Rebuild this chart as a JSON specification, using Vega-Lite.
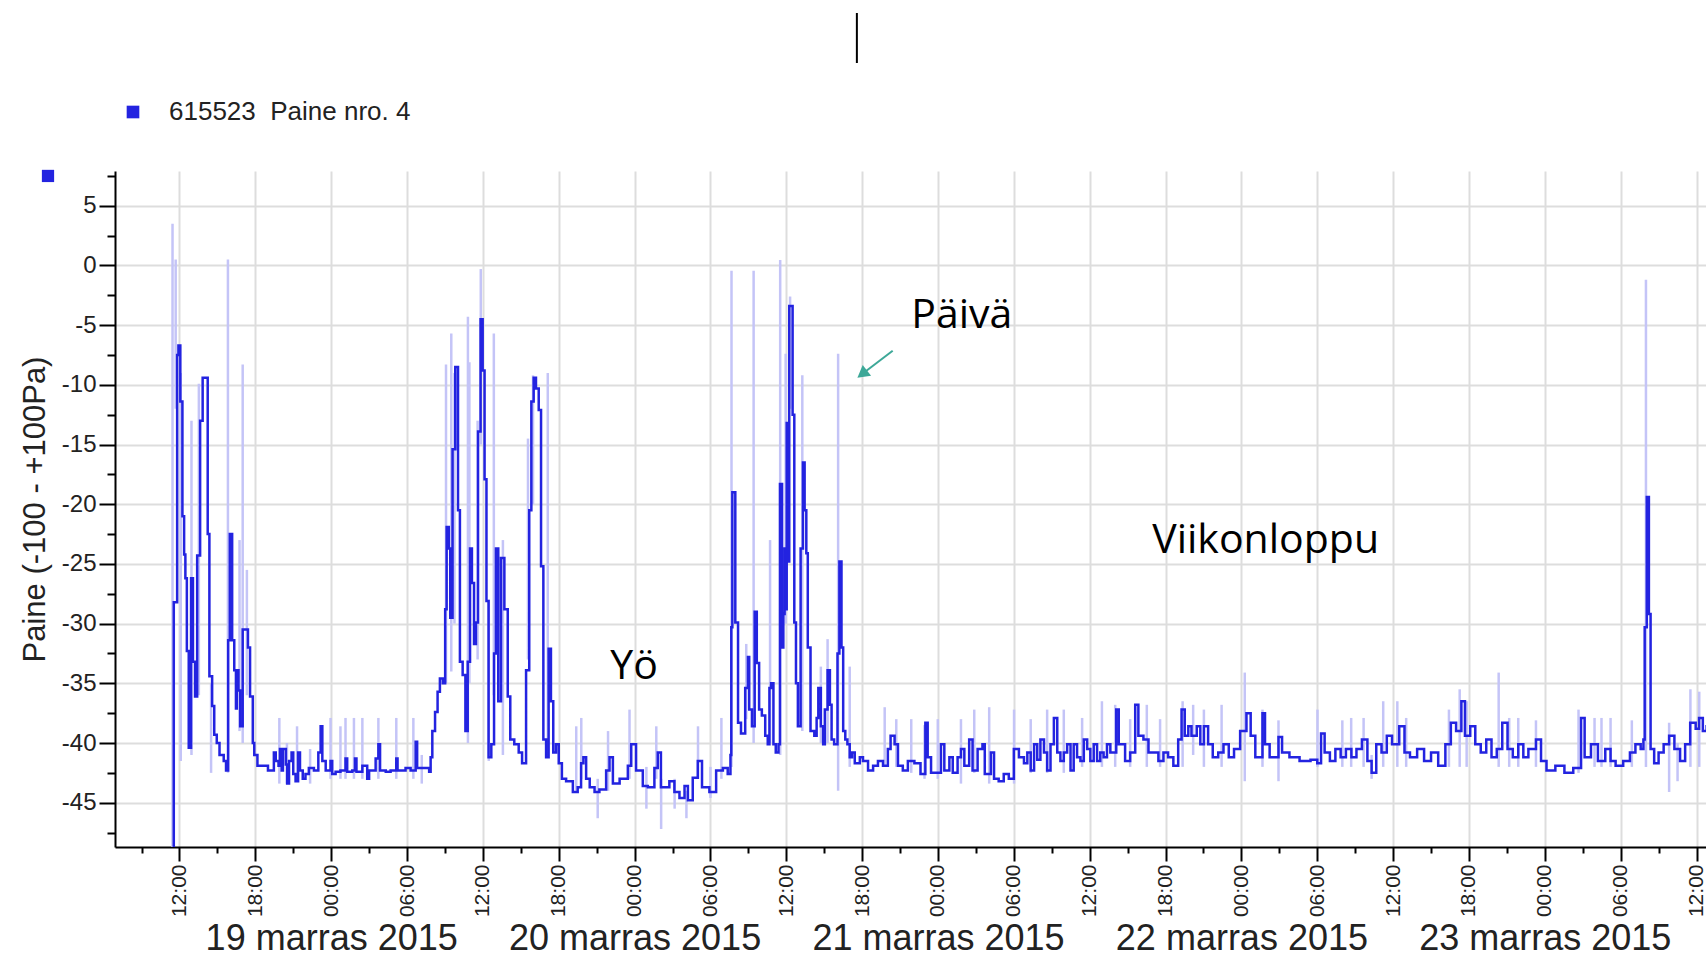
{
  "$schema": "https://vega.github.io/schema/vega-lite/v6.json",
  "width": 1591,
  "height": 676,
  "autosize": {"type": "none"},
  "padding": {"left": 115, "top": 171, "right": 0, "bottom": 111},
  "background": "white",
  "config": {"view": {"stroke": null}, "font": "Liberation Sans"},
  "resolve": {"axis": {"x": "independent", "y": "independent"}},
  "datasets": {
    "line": [
      {"t":"2015-11-18T11:28","v":-50},{"t":"2015-11-18T11:33","v":-28.2},{"t":"2015-11-18T11:49","v":-7.5},{"t":"2015-11-18T11:55","v":-6.7},
      {"t":"2015-11-18T12:04","v":-11.4},{"t":"2015-11-18T12:14","v":-21},{"t":"2015-11-18T12:22","v":-24.2},{"t":"2015-11-18T12:28","v":-26.2},
      {"t":"2015-11-18T12:35","v":-32.3},{"t":"2015-11-18T12:44","v":-40.4},{"t":"2015-11-18T12:55","v":-26.2},{"t":"2015-11-18T13:04","v":-33.2},
      {"t":"2015-11-18T13:14","v":-36.1},{"t":"2015-11-18T13:24","v":-24.3},{"t":"2015-11-18T13:38","v":-13},{"t":"2015-11-18T13:50","v":-9.4},
      {"t":"2015-11-18T14:14","v":-22.5},{"t":"2015-11-18T14:22","v":-34.4},{"t":"2015-11-18T14:35","v":-36.9},{"t":"2015-11-18T14:45","v":-39.3},
      {"t":"2015-11-18T14:57","v":-40},{"t":"2015-11-18T15:10","v":-41},{"t":"2015-11-18T15:30","v":-41.5},{"t":"2015-11-18T15:41","v":-42.3},
      {"t":"2015-11-18T15:51","v":-31.4},{"t":"2015-11-18T15:59","v":-22.5},{"t":"2015-11-18T16:10","v":-31.4},{"t":"2015-11-18T16:20","v":-33.9},
      {"t":"2015-11-18T16:28","v":-37.1},{"t":"2015-11-18T16:32","v":-33.9},{"t":"2015-11-18T16:40","v":-35.6},{"t":"2015-11-18T16:48","v":-38.6},
      {"t":"2015-11-18T17:00","v":-30.5},{"t":"2015-11-18T17:25","v":-32},{"t":"2015-11-18T17:35","v":-36.1},{"t":"2015-11-18T17:48","v":-40},
      {"t":"2015-11-18T17:55","v":-41},{"t":"2015-11-18T18:10","v":-41.9},{"t":"2015-11-18T19:00","v":-42.3},{"t":"2015-11-18T19:28","v":-40.8},
      {"t":"2015-11-18T19:37","v":-41.5},{"t":"2015-11-18T19:50","v":-41.9},{"t":"2015-11-18T19:57","v":-40.5},{"t":"2015-11-18T20:05","v":-42.3},
      {"t":"2015-11-18T20:11","v":-40.5},{"t":"2015-11-18T20:25","v":-41.8},{"t":"2015-11-18T20:31","v":-43.4},{"t":"2015-11-18T20:40","v":-41.5},
      {"t":"2015-11-18T20:52","v":-40.8},{"t":"2015-11-18T21:00","v":-42.6},{"t":"2015-11-18T21:11","v":-43.2},{"t":"2015-11-18T21:23","v":-40.8},
      {"t":"2015-11-18T21:32","v":-42.3},{"t":"2015-11-18T21:45","v":-43},{"t":"2015-11-18T21:58","v":-42.6},{"t":"2015-11-18T22:14","v":-42.1},
      {"t":"2015-11-18T22:38","v":-42.3},{"t":"2015-11-18T22:59","v":-40.8},{"t":"2015-11-18T23:10","v":-38.6},{"t":"2015-11-18T23:18","v":-41.5},
      {"t":"2015-11-18T23:34","v":-42.3},{"t":"2015-11-18T23:57","v":-41.5},
      {"t":"2015-11-19T00:05","v":-42.6},{"t":"2015-11-19T00:21","v":-42.4},{"t":"2015-11-19T00:44","v":-42.3},{"t":"2015-11-19T01:08","v":-41.3},
      {"t":"2015-11-19T01:16","v":-42.4},{"t":"2015-11-19T01:40","v":-42.3},{"t":"2015-11-19T01:53","v":-41.3},{"t":"2015-11-19T02:00","v":-42.4},
      {"t":"2015-11-19T02:28","v":-41.9},{"t":"2015-11-19T02:51","v":-43},{"t":"2015-11-19T03:00","v":-42.3},{"t":"2015-11-19T03:31","v":-41.3},
      {"t":"2015-11-19T03:44","v":-40.1},{"t":"2015-11-19T03:52","v":-42.3},{"t":"2015-11-19T04:19","v":-42.4},{"t":"2015-11-19T04:42","v":-42.3},
      {"t":"2015-11-19T05:09","v":-41.3},{"t":"2015-11-19T05:15","v":-42.3},{"t":"2015-11-19T05:53","v":-42.1},{"t":"2015-11-19T06:17","v":-42.3},
      {"t":"2015-11-19T06:41","v":-39.9},{"t":"2015-11-19T06:48","v":-42.1},{"t":"2015-11-19T07:20","v":-42.1},{"t":"2015-11-19T07:45","v":-42.4},
      {"t":"2015-11-19T07:52","v":-41.2},{"t":"2015-11-19T08:00","v":-39},{"t":"2015-11-19T08:13","v":-37.4},{"t":"2015-11-19T08:25","v":-35.7},
      {"t":"2015-11-19T08:36","v":-34.6},{"t":"2015-11-19T08:50","v":-35},{"t":"2015-11-19T09:01","v":-28.8},{"t":"2015-11-19T09:08","v":-21.9},
      {"t":"2015-11-19T09:18","v":-23.7},{"t":"2015-11-19T09:25","v":-29.5},{"t":"2015-11-19T09:36","v":-15.4},{"t":"2015-11-19T09:49","v":-8.5},
      {"t":"2015-11-19T10:02","v":-20.5},{"t":"2015-11-19T10:11","v":-33.2},{"t":"2015-11-19T10:24","v":-34.3},{"t":"2015-11-19T10:37","v":-39},
      {"t":"2015-11-19T10:48","v":-33.2},{"t":"2015-11-19T10:59","v":-23.7},{"t":"2015-11-19T11:08","v":-26.6},{"t":"2015-11-19T11:18","v":-31.7},
      {"t":"2015-11-19T11:27","v":-29.9},{"t":"2015-11-19T11:37","v":-13.9},{"t":"2015-11-19T11:49","v":-4.5},{"t":"2015-11-19T11:59","v":-8.8},
      {"t":"2015-11-19T12:08","v":-17.9},{"t":"2015-11-19T12:17","v":-28.1},{"t":"2015-11-19T12:27","v":-41.2},{"t":"2015-11-19T12:40","v":-40.1},
      {"t":"2015-11-19T12:53","v":-32.5},{"t":"2015-11-19T13:02","v":-23.7},{"t":"2015-11-19T13:13","v":-36.5},{"t":"2015-11-19T13:26","v":-24.5},
      {"t":"2015-11-19T13:42","v":-28.8},{"t":"2015-11-19T13:58","v":-36.1},{"t":"2015-11-19T14:10","v":-39.7},{"t":"2015-11-19T14:29","v":-40.1},
      {"t":"2015-11-19T14:50","v":-40.8},{"t":"2015-11-19T15:06","v":-41.7},{"t":"2015-11-19T15:25","v":-33.9},{"t":"2015-11-19T15:40","v":-20.5},
      {"t":"2015-11-19T15:50","v":-11.4},{"t":"2015-11-19T16:01","v":-9.4},{"t":"2015-11-19T16:12","v":-10.3},{"t":"2015-11-19T16:25","v":-12.1},
      {"t":"2015-11-19T16:36","v":-25.2},{"t":"2015-11-19T16:47","v":-39.7},{"t":"2015-11-19T17:00","v":-41.2},{"t":"2015-11-19T17:12","v":-32.1},
      {"t":"2015-11-19T17:23","v":-36.5},{"t":"2015-11-19T17:34","v":-40.8},{"t":"2015-11-19T17:47","v":-40.1},{"t":"2015-11-19T18:00","v":-41.7},
      {"t":"2015-11-19T18:15","v":-43},{"t":"2015-11-19T18:35","v":-43.2},{"t":"2015-11-19T19:07","v":-44.1},{"t":"2015-11-19T19:30","v":-43.7},
      {"t":"2015-11-19T19:46","v":-41.7},{"t":"2015-11-19T19:57","v":-41.2},{"t":"2015-11-19T20:10","v":-43},{"t":"2015-11-19T20:27","v":-43.7},
      {"t":"2015-11-19T20:50","v":-44.1},{"t":"2015-11-19T21:13","v":-43.9},{"t":"2015-11-19T21:45","v":-42.3},{"t":"2015-11-19T22:01","v":-41.2},
      {"t":"2015-11-19T22:17","v":-43.4},{"t":"2015-11-19T22:49","v":-43},{"t":"2015-11-19T23:28","v":-41.9},{"t":"2015-11-19T23:44","v":-40.1},
      {"t":"2015-11-20T00:07","v":-42.3},{"t":"2015-11-20T00:39","v":-43.6},{"t":"2015-11-20T01:03","v":-43.7},{"t":"2015-11-20T01:34","v":-42.1},
      {"t":"2015-11-20T01:50","v":-40.8},{"t":"2015-11-20T02:05","v":-43.7},{"t":"2015-11-20T02:45","v":-43.2},{"t":"2015-11-20T03:09","v":-44.1},
      {"t":"2015-11-20T03:33","v":-44.6},{"t":"2015-11-20T03:57","v":-43.6},{"t":"2015-11-20T04:13","v":-44.8},{"t":"2015-11-20T04:36","v":-42.9},
      {"t":"2015-11-20T05:00","v":-41.5},{"t":"2015-11-20T05:20","v":-43.7},{"t":"2015-11-20T05:55","v":-44.1},{"t":"2015-11-20T06:27","v":-42.3},
      {"t":"2015-11-20T06:59","v":-42.1},{"t":"2015-11-20T07:22","v":-42.6},{"t":"2015-11-20T07:35","v":-41},{"t":"2015-11-20T07:39","v":-30.3},
      {"t":"2015-11-20T07:44","v":-19},{"t":"2015-11-20T07:58","v":-29.9},{"t":"2015-11-20T08:11","v":-38.3},{"t":"2015-11-20T08:25","v":-39.2},
      {"t":"2015-11-20T08:45","v":-35.4},{"t":"2015-11-20T08:58","v":-32.8},{"t":"2015-11-20T09:04","v":-37.2},{"t":"2015-11-20T09:17","v":-38.6},
      {"t":"2015-11-20T09:30","v":-29},{"t":"2015-11-20T09:40","v":-33.3},{"t":"2015-11-20T09:51","v":-37.2},{"t":"2015-11-20T10:04","v":-37.7},
      {"t":"2015-11-20T10:20","v":-39.4},{"t":"2015-11-20T10:32","v":-40.1},{"t":"2015-11-20T10:40","v":-35.4},{"t":"2015-11-20T10:48","v":-35},
      {"t":"2015-11-20T10:59","v":-40.1},{"t":"2015-11-20T11:10","v":-40.8},{"t":"2015-11-20T11:23","v":-40.1},{"t":"2015-11-20T11:30","v":-18.3},
      {"t":"2015-11-20T11:40","v":-32},{"t":"2015-11-20T11:46","v":-29.2},{"t":"2015-11-20T11:52","v":-23.7},{"t":"2015-11-20T11:58","v":-28.8},
      {"t":"2015-11-20T12:02","v":-13.2},{"t":"2015-11-20T12:09","v":-24.8},{"t":"2015-11-20T12:14","v":-3.4},{"t":"2015-11-20T12:30","v":-12.5},
      {"t":"2015-11-20T12:38","v":-29.9},{"t":"2015-11-20T12:46","v":-35},{"t":"2015-11-20T12:55","v":-38.6},{"t":"2015-11-20T13:08","v":-23.7},
      {"t":"2015-11-20T13:19","v":-16.5},{"t":"2015-11-20T13:27","v":-20.5},{"t":"2015-11-20T13:35","v":-24.1},{"t":"2015-11-20T13:42","v":-32},
      {"t":"2015-11-20T13:55","v":-39},{"t":"2015-11-20T14:13","v":-39.4},{"t":"2015-11-20T14:24","v":-37.9},{"t":"2015-11-20T14:32","v":-35.4},
      {"t":"2015-11-20T14:44","v":-38.6},{"t":"2015-11-20T14:55","v":-40.1},{"t":"2015-11-20T15:03","v":-37.2},{"t":"2015-11-20T15:16","v":-33.9},
      {"t":"2015-11-20T15:27","v":-36.8},{"t":"2015-11-20T15:35","v":-39.7},{"t":"2015-11-20T15:47","v":-40.1},{"t":"2015-11-20T16:03","v":-32.5},
      {"t":"2015-11-20T16:12","v":-24.8},{"t":"2015-11-20T16:22","v":-32},{"t":"2015-11-20T16:30","v":-39},{"t":"2015-11-20T16:40","v":-39.7},
      {"t":"2015-11-20T16:50","v":-40.1},{"t":"2015-11-20T17:01","v":-41.2},{"t":"2015-11-20T17:12","v":-40.8},{"t":"2015-11-20T17:25","v":-41.7},
      {"t":"2015-11-20T17:49","v":-41.2},{"t":"2015-11-20T18:04","v":-41.5},{"t":"2015-11-20T18:28","v":-42.3},{"t":"2015-11-20T18:52","v":-41.9},
      {"t":"2015-11-20T19:15","v":-41.5},{"t":"2015-11-20T19:39","v":-41.9},{"t":"2015-11-20T20:02","v":-40.5},{"t":"2015-11-20T20:15","v":-39.4},
      {"t":"2015-11-20T20:34","v":-40.1},{"t":"2015-11-20T20:50","v":-41.9},{"t":"2015-11-20T21:13","v":-42.3},{"t":"2015-11-20T21:37","v":-41.5},
      {"t":"2015-11-20T22:08","v":-41.7},{"t":"2015-11-20T22:37","v":-42.6},{"t":"2015-11-20T23:00","v":-38.3},{"t":"2015-11-20T23:11","v":-41.2},
      {"t":"2015-11-20T23:27","v":-42.5},{"t":"2015-11-20T23:51","v":-42.5},
      {"t":"2015-11-21T00:14","v":-40.1},{"t":"2015-11-21T00:30","v":-42.3},{"t":"2015-11-21T00:54","v":-41.2},{"t":"2015-11-21T01:10","v":-42.5},
      {"t":"2015-11-21T01:33","v":-41.2},{"t":"2015-11-21T01:49","v":-40.5},{"t":"2015-11-21T02:05","v":-41.9},{"t":"2015-11-21T02:28","v":-39.7},
      {"t":"2015-11-21T02:44","v":-42.3},{"t":"2015-11-21T03:08","v":-40.5},{"t":"2015-11-21T03:31","v":-40.1},{"t":"2015-11-21T03:42","v":-42.6},
      {"t":"2015-11-21T04:11","v":-40.8},{"t":"2015-11-21T04:26","v":-43},{"t":"2015-11-21T04:48","v":-43.2},{"t":"2015-11-21T05:12","v":-42.6},
      {"t":"2015-11-21T05:36","v":-43},{"t":"2015-11-21T06:00","v":-40.5},{"t":"2015-11-21T06:24","v":-41.2},{"t":"2015-11-21T06:48","v":-41.7},
      {"t":"2015-11-21T07:04","v":-40.8},{"t":"2015-11-21T07:20","v":-42.3},{"t":"2015-11-21T07:36","v":-40.1},{"t":"2015-11-21T07:51","v":-41.4},
      {"t":"2015-11-21T08:06","v":-39.7},{"t":"2015-11-21T08:23","v":-40.8},{"t":"2015-11-21T08:38","v":-42.3},{"t":"2015-11-21T08:54","v":-40.1},
      {"t":"2015-11-21T09:10","v":-37.9},{"t":"2015-11-21T09:26","v":-40.8},{"t":"2015-11-21T09:41","v":-41.5},{"t":"2015-11-21T09:57","v":-40.8},
      {"t":"2015-11-21T10:13","v":-40.1},{"t":"2015-11-21T10:29","v":-42.3},{"t":"2015-11-21T10:44","v":-40.1},{"t":"2015-11-21T11:00","v":-41.2},
      {"t":"2015-11-21T11:16","v":-41.5},{"t":"2015-11-21T11:32","v":-39.7},{"t":"2015-11-21T11:48","v":-40.5},{"t":"2015-11-21T12:03","v":-41.5},
      {"t":"2015-11-21T12:19","v":-40.1},{"t":"2015-11-21T12:35","v":-41.5},{"t":"2015-11-21T12:50","v":-40.8},{"t":"2015-11-21T13:06","v":-41.2},
      {"t":"2015-11-21T13:22","v":-40.1},{"t":"2015-11-21T13:38","v":-40.8},{"t":"2015-11-21T14:06","v":-37.2},{"t":"2015-11-21T14:18","v":-40.1},
      {"t":"2015-11-21T14:48","v":-41.5},{"t":"2015-11-21T15:12","v":-40.8},{"t":"2015-11-21T15:36","v":-36.8},{"t":"2015-11-21T15:51","v":-39.4},
      {"t":"2015-11-21T16:15","v":-39.7},{"t":"2015-11-21T16:39","v":-40.8},{"t":"2015-11-21T17:26","v":-41.5},{"t":"2015-11-21T17:50","v":-40.8},
      {"t":"2015-11-21T18:12","v":-41.2},{"t":"2015-11-21T18:37","v":-41.9},{"t":"2015-11-21T19:00","v":-39.7},{"t":"2015-11-21T19:16","v":-37.2},
      {"t":"2015-11-21T19:31","v":-39.4},{"t":"2015-11-21T19:48","v":-38.6},{"t":"2015-11-21T20:03","v":-39.4},{"t":"2015-11-21T20:28","v":-38.6},
      {"t":"2015-11-21T20:45","v":-40.1},{"t":"2015-11-21T21:02","v":-38.6},{"t":"2015-11-21T21:22","v":-40.1},{"t":"2015-11-21T21:44","v":-41.2},
      {"t":"2015-11-21T22:10","v":-40.8},{"t":"2015-11-21T22:35","v":-40.1},{"t":"2015-11-21T23:00","v":-41.2},{"t":"2015-11-21T23:25","v":-40.5},
      {"t":"2015-11-21T23:54","v":-39},
      {"t":"2015-11-22T00:24","v":-37.5},{"t":"2015-11-22T00:44","v":-39.4},{"t":"2015-11-22T01:06","v":-41.2},{"t":"2015-11-22T01:40","v":-37.5},
      {"t":"2015-11-22T01:52","v":-40.1},{"t":"2015-11-22T02:14","v":-41.2},{"t":"2015-11-22T02:56","v":-39.5},{"t":"2015-11-22T03:13","v":-40.8},
      {"t":"2015-11-22T03:48","v":-41.2},{"t":"2015-11-22T04:36","v":-41.5},{"t":"2015-11-22T05:28","v":-41.4},{"t":"2015-11-22T06:00","v":-41.7},
      {"t":"2015-11-22T06:18","v":-39.2},{"t":"2015-11-22T06:35","v":-40.8},{"t":"2015-11-22T07:00","v":-41.5},{"t":"2015-11-22T07:26","v":-40.5},
      {"t":"2015-11-22T07:51","v":-41.2},{"t":"2015-11-22T08:16","v":-40.5},{"t":"2015-11-22T08:42","v":-41.2},{"t":"2015-11-22T09:06","v":-40.5},
      {"t":"2015-11-22T09:32","v":-39.7},{"t":"2015-11-22T09:58","v":-41.5},{"t":"2015-11-22T10:18","v":-42.5},{"t":"2015-11-22T10:40","v":-40.1},
      {"t":"2015-11-22T11:05","v":-40.8},{"t":"2015-11-22T11:30","v":-39.4},{"t":"2015-11-22T11:55","v":-40.1},{"t":"2015-11-22T12:29","v":-38.6},
      {"t":"2015-11-22T12:54","v":-40.8},{"t":"2015-11-22T13:20","v":-41.2},{"t":"2015-11-22T13:54","v":-40.5},{"t":"2015-11-22T14:27","v":-41.5},
      {"t":"2015-11-22T15:00","v":-40.8},{"t":"2015-11-22T15:34","v":-41.9},{"t":"2015-11-22T16:08","v":-40.1},{"t":"2015-11-22T16:34","v":-38.3},
      {"t":"2015-11-22T16:59","v":-39},{"t":"2015-11-22T17:24","v":-36.5},{"t":"2015-11-22T17:41","v":-39.4},{"t":"2015-11-22T18:06","v":-38.6},
      {"t":"2015-11-22T18:30","v":-40.1},{"t":"2015-11-22T18:56","v":-40.8},{"t":"2015-11-22T19:22","v":-39.7},{"t":"2015-11-22T19:47","v":-41.2},
      {"t":"2015-11-22T20:12","v":-40.5},{"t":"2015-11-22T20:38","v":-38.3},{"t":"2015-11-22T21:03","v":-40.5},{"t":"2015-11-22T21:28","v":-41.2},
      {"t":"2015-11-22T21:54","v":-40.1},{"t":"2015-11-22T22:18","v":-41.2},{"t":"2015-11-22T22:42","v":-40.5},{"t":"2015-11-22T23:18","v":-39.7},
      {"t":"2015-11-22T23:42","v":-41.5},
      {"t":"2015-11-23T00:08","v":-42.3},{"t":"2015-11-23T00:50","v":-41.9},{"t":"2015-11-23T01:33","v":-42.5},{"t":"2015-11-23T02:15","v":-42.1},
      {"t":"2015-11-23T02:52","v":-37.9},{"t":"2015-11-23T03:09","v":-41.2},{"t":"2015-11-23T03:39","v":-40.1},{"t":"2015-11-23T04:12","v":-41.5},
      {"t":"2015-11-23T04:47","v":-40.5},{"t":"2015-11-23T05:12","v":-41.5},{"t":"2015-11-23T05:36","v":-41.9},{"t":"2015-11-23T06:12","v":-41.5},
      {"t":"2015-11-23T06:44","v":-40.8},{"t":"2015-11-23T07:10","v":-40.1},{"t":"2015-11-23T07:35","v":-40.5},{"t":"2015-11-23T07:48","v":-39.7},
      {"t":"2015-11-23T07:54","v":-30.3},{"t":"2015-11-23T08:04","v":-19.4},{"t":"2015-11-23T08:14","v":-29.2},{"t":"2015-11-23T08:22","v":-40.5},
      {"t":"2015-11-23T08:39","v":-41.7},{"t":"2015-11-23T09:00","v":-40.8},{"t":"2015-11-23T09:24","v":-40.1},{"t":"2015-11-23T09:50","v":-39.4},
      {"t":"2015-11-23T10:15","v":-40.5},{"t":"2015-11-23T10:42","v":-41.5},{"t":"2015-11-23T11:06","v":-40.1},{"t":"2015-11-23T11:30","v":-38.3},
      {"t":"2015-11-23T11:56","v":-38.8},{"t":"2015-11-23T12:12","v":-37.9},{"t":"2015-11-23T12:30","v":-39},{"t":"2015-11-23T12:48","v":-38.5}
    ],
    "env": [
      {"t":"2015-11-18T11:27","lo":-48.7,"hi":3.5},{"t":"2015-11-18T11:42","lo":-12,"hi":0.5},{"t":"2015-11-18T12:06","lo":-41.5,"hi":-9},
      {"t":"2015-11-18T12:57","lo":-41,"hi":-13},{"t":"2015-11-18T13:32","lo":-36,"hi":-9.9},{"t":"2015-11-18T14:30","lo":-42.5,"hi":-35},
      {"t":"2015-11-18T15:50","lo":-42.5,"hi":0.5},{"t":"2015-11-18T16:45","lo":-39,"hi":-23},{"t":"2015-11-18T17:00","lo":-40,"hi":-8.3},
      {"t":"2015-11-18T17:20","lo":-36,"hi":-25.5},{"t":"2015-11-18T19:54","lo":-43.4,"hi":-37.9},{"t":"2015-11-18T20:30","lo":-43.4,"hi":-40},
      {"t":"2015-11-18T21:18","lo":-43.2,"hi":-38.6},{"t":"2015-11-18T22:20","lo":-43.4,"hi":-40.5},{"t":"2015-11-18T23:57","lo":-43,"hi":-37.9},
      {"t":"2015-11-19T00:44","lo":-43,"hi":-38.6},{"t":"2015-11-19T01:08","lo":-43,"hi":-37.9},{"t":"2015-11-19T01:48","lo":-43,"hi":-37.9},
      {"t":"2015-11-19T02:28","lo":-43,"hi":-37.9},{"t":"2015-11-19T03:44","lo":-43,"hi":-37.9},{"t":"2015-11-19T05:09","lo":-43,"hi":-37.9},
      {"t":"2015-11-19T06:30","lo":-43,"hi":-37.9},{"t":"2015-11-19T07:10","lo":-43.4,"hi":-41},{"t":"2015-11-19T09:05","lo":-35,"hi":-8.3},
      {"t":"2015-11-19T09:30","lo":-34,"hi":-5.7},{"t":"2015-11-19T09:45","lo":-30,"hi":-9},{"t":"2015-11-19T10:49","lo":-40,"hi":-4.3},
      {"t":"2015-11-19T10:56","lo":-35,"hi":-8.1},{"t":"2015-11-19T11:35","lo":-33,"hi":-13},{"t":"2015-11-19T11:50","lo":-15,"hi":-0.3},
      {"t":"2015-11-19T12:28","lo":-41.5,"hi":-28},{"t":"2015-11-19T12:52","lo":-36,"hi":-5.7},{"t":"2015-11-19T13:35","lo":-41,"hi":-23},
      {"t":"2015-11-19T15:34","lo":-33,"hi":-14.5},{"t":"2015-11-19T15:58","lo":-20,"hi":-9.2},{"t":"2015-11-19T17:08","lo":-41,"hi":-9},
      {"t":"2015-11-19T19:23","lo":-44,"hi":-38.6},{"t":"2015-11-19T19:47","lo":-43,"hi":-37.9},{"t":"2015-11-19T21:05","lo":-46.3,"hi":-43},
      {"t":"2015-11-19T21:54","lo":-44,"hi":-39},{"t":"2015-11-19T23:36","lo":-43,"hi":-37.2},{"t":"2015-11-20T00:56","lo":-45.5,"hi":-42},
      {"t":"2015-11-20T01:43","lo":-43,"hi":-38.6},{"t":"2015-11-20T02:06","lo":-47.2,"hi":-43},{"t":"2015-11-20T03:10","lo":-45.5,"hi":-43},
      {"t":"2015-11-20T04:06","lo":-46.3,"hi":-44},{"t":"2015-11-20T05:01","lo":-43,"hi":-38.6},{"t":"2015-11-20T06:00","lo":-44.6,"hi":-42},
      {"t":"2015-11-20T06:52","lo":-43,"hi":-37.9},{"t":"2015-11-20T07:40","lo":-42,"hi":-0.45},{"t":"2015-11-20T08:50","lo":-38,"hi":-31.7},
      {"t":"2015-11-20T09:25","lo":-40,"hi":-0.45},{"t":"2015-11-20T10:43","lo":-40,"hi":-23},{"t":"2015-11-20T11:31","lo":-41,"hi":0.45},
      {"t":"2015-11-20T11:57","lo":-30,"hi":-7.4},{"t":"2015-11-20T12:18","lo":-12,"hi":-2.6},{"t":"2015-11-20T13:16","lo":-39,"hi":-9.2},
      {"t":"2015-11-20T14:44","lo":-40,"hi":-33.6},{"t":"2015-11-20T15:16","lo":-40,"hi":-31.3},{"t":"2015-11-20T16:06","lo":-44,"hi":-7.4},
      {"t":"2015-11-20T17:01","lo":-42,"hi":-33.6},{"t":"2015-11-20T19:47","lo":-42,"hi":-37},{"t":"2015-11-20T20:42","lo":-42,"hi":-38},
      {"t":"2015-11-20T21:53","lo":-42.5,"hi":-38},{"t":"2015-11-20T22:56","lo":-43,"hi":-38.5},{"t":"2015-11-20T23:59","lo":-43,"hi":-38},
      {"t":"2015-11-21T01:49","lo":-43.4,"hi":-38},{"t":"2015-11-21T02:52","lo":-42.5,"hi":-37.2},{"t":"2015-11-21T04:03","lo":-43.4,"hi":-37},
      {"t":"2015-11-21T06:01","lo":-43.4,"hi":-37.2},{"t":"2015-11-21T07:20","lo":-42.5,"hi":-38},{"t":"2015-11-21T08:38","lo":-42.5,"hi":-37.2},
      {"t":"2015-11-21T09:57","lo":-42.5,"hi":-37.2},{"t":"2015-11-21T11:24","lo":-42,"hi":-37.9},{"t":"2015-11-21T12:58","lo":-42,"hi":-36.5},
      {"t":"2015-11-21T14:01","lo":-42,"hi":-36.8},{"t":"2015-11-21T15:12","lo":-42,"hi":-38},{"t":"2015-11-21T16:31","lo":-42,"hi":-36.8},
      {"t":"2015-11-21T17:34","lo":-42,"hi":-38},{"t":"2015-11-21T19:21","lo":-42,"hi":-36.5},{"t":"2015-11-21T20:11","lo":-41,"hi":-36.8},
      {"t":"2015-11-21T21:02","lo":-42,"hi":-37.2},{"t":"2015-11-21T22:26","lo":-42,"hi":-36.8},{"t":"2015-11-22T00:16","lo":-43.2,"hi":-34.1},
      {"t":"2015-11-22T01:40","lo":-42,"hi":-37.2},{"t":"2015-11-22T02:56","lo":-43.2,"hi":-38.1},{"t":"2015-11-22T06:01","lo":-42,"hi":-37.2},
      {"t":"2015-11-22T07:59","lo":-42,"hi":-38.1},{"t":"2015-11-22T08:41","lo":-42,"hi":-37.9},{"t":"2015-11-22T09:40","lo":-42,"hi":-37.9},
      {"t":"2015-11-22T10:18","lo":-43,"hi":-41},{"t":"2015-11-22T11:13","lo":-42,"hi":-36.5},{"t":"2015-11-22T12:20","lo":-42,"hi":-36.5},
      {"t":"2015-11-22T13:02","lo":-42,"hi":-37.9},{"t":"2015-11-22T16:25","lo":-42,"hi":-37.2},{"t":"2015-11-22T17:16","lo":-42,"hi":-35.5},
      {"t":"2015-11-22T17:49","lo":-42,"hi":-36.5},{"t":"2015-11-22T20:21","lo":-42,"hi":-34.1},{"t":"2015-11-22T21:11","lo":-42,"hi":-37.9},
      {"t":"2015-11-22T21:54","lo":-42,"hi":-37.9},{"t":"2015-11-22T23:18","lo":-42,"hi":-38.1},{"t":"2015-11-23T02:40","lo":-42.5,"hi":-37.2},
      {"t":"2015-11-23T03:56","lo":-42,"hi":-37.9},{"t":"2015-11-23T04:29","lo":-42,"hi":-37.9},{"t":"2015-11-23T05:12","lo":-42,"hi":-37.9},
      {"t":"2015-11-23T06:53","lo":-42,"hi":-38.1},{"t":"2015-11-23T08:00","lo":-42,"hi":-1.2},{"t":"2015-11-23T09:50","lo":-44.1,"hi":-38.3},
      {"t":"2015-11-23T10:30","lo":-43.2,"hi":-40},{"t":"2015-11-23T11:31","lo":-42,"hi":-35.5},{"t":"2015-11-23T12:13","lo":-42,"hi":-35.7}
    ],
    "notes": [
      {"t":"2015-11-21T01:53","v":-5.24,"label":"Päivä"},
      {"t":"2015-11-19T23:58","v":-34.6,"label":"Yö"},
      {"t":"2015-11-22T01:55","v":-24.1,"label":"Viikonloppu"}
    ],
    "arrow": [{"t":"2015-11-20T20:25","t2":"2015-11-20T18:00","v":-7.14,"v2":-9.09}],
    "head": [{"t":"2015-11-20T18:00","v":-9.09}],
    "cursor": [{"t":"2015-11-20T17:35","v":21.15,"v2":16.96}],
    "marker": [{"t":"2015-11-18T01:36","v":7.5}]
  },
  "layer": [
    {
      "data": {"name": "env"},
      "mark": {"type": "rule", "color": "#c4c4f7", "strokeWidth": 2.5, "clip": true},
      "encoding": {
        "x": {
          "field": "t", "type": "temporal",
          "scale": {"domain": [{"year":2015,"month":11,"date":18,"hours":6,"minutes":54},{"year":2015,"month":11,"date":23,"hours":12,"minutes":45}]},
          "axis": {
            "orient": "bottom",
            "values": [
              {"year":2015,"month":11,"date":18,"hours":9},{"year":2015,"month":11,"date":18,"hours":12},{"year":2015,"month":11,"date":18,"hours":15},{"year":2015,"month":11,"date":18,"hours":18},{"year":2015,"month":11,"date":18,"hours":21},
              {"year":2015,"month":11,"date":19,"hours":0},{"year":2015,"month":11,"date":19,"hours":3},{"year":2015,"month":11,"date":19,"hours":6},{"year":2015,"month":11,"date":19,"hours":9},{"year":2015,"month":11,"date":19,"hours":12},{"year":2015,"month":11,"date":19,"hours":15},{"year":2015,"month":11,"date":19,"hours":18},{"year":2015,"month":11,"date":19,"hours":21},
              {"year":2015,"month":11,"date":20,"hours":0},{"year":2015,"month":11,"date":20,"hours":3},{"year":2015,"month":11,"date":20,"hours":6},{"year":2015,"month":11,"date":20,"hours":9},{"year":2015,"month":11,"date":20,"hours":12},{"year":2015,"month":11,"date":20,"hours":15},{"year":2015,"month":11,"date":20,"hours":18},{"year":2015,"month":11,"date":20,"hours":21},
              {"year":2015,"month":11,"date":21,"hours":0},{"year":2015,"month":11,"date":21,"hours":3},{"year":2015,"month":11,"date":21,"hours":6},{"year":2015,"month":11,"date":21,"hours":9},{"year":2015,"month":11,"date":21,"hours":12},{"year":2015,"month":11,"date":21,"hours":15},{"year":2015,"month":11,"date":21,"hours":18},{"year":2015,"month":11,"date":21,"hours":21},
              {"year":2015,"month":11,"date":22,"hours":0},{"year":2015,"month":11,"date":22,"hours":3},{"year":2015,"month":11,"date":22,"hours":6},{"year":2015,"month":11,"date":22,"hours":9},{"year":2015,"month":11,"date":22,"hours":12},{"year":2015,"month":11,"date":22,"hours":15},{"year":2015,"month":11,"date":22,"hours":18},{"year":2015,"month":11,"date":22,"hours":21},
              {"year":2015,"month":11,"date":23,"hours":0},{"year":2015,"month":11,"date":23,"hours":3},{"year":2015,"month":11,"date":23,"hours":6},{"year":2015,"month":11,"date":23,"hours":9},{"year":2015,"month":11,"date":23,"hours":12}
            ],
            "labelExpr": "hours(datum.value) % 6 === 0 ? timeFormat(datum.value, '%H:%M') : ''",
            "labelAngle": 270,
            "labelFont": "Liberation Sans",
            "labelFontSize": 21,
            "labelColor": "#222222",
            "labelPadding": 3,
            "labelOverlap": false,
            "labelFlush": false,
            "labelBound": false,
            "tickSize": {"condition": {"test": "hours(datum.value) % 6 === 0", "value": 14}, "value": 6},
            "tickColor": "#000000",
            "tickWidth": 2,
            "domainColor": "#000000",
            "domainWidth": 2,
            "grid": true,
            "gridColor": "#dddddd",
            "gridWidth": 2,
            "gridOpacity": {"condition": {"test": "hours(datum.value) % 6 === 0", "value": 1}, "value": 0},
            "title": null
          }
        },
        "y": {
          "field": "lo", "type": "quantitative",
          "scale": {"domain": [-48.71, 7.915], "nice": false, "zero": false},
          "axis": {
            "orient": "left",
            "values": [-47.5,-45,-42.5,-40,-37.5,-35,-32.5,-30,-27.5,-25,-22.5,-20,-17.5,-15,-12.5,-10,-7.5,-5,-2.5,0,2.5,5,7.5],
            "labelExpr": "datum.value % 5 === 0 ? '' + datum.value : ''",
            "labelFontSize": 24,
            "labelColor": "#222222",
            "labelPadding": 3,
            "labelOverlap": false,
            "labelFlush": false,
            "tickSize": {"condition": {"test": "datum.value % 5 === 0", "value": 16}, "value": 8},
            "tickColor": "#000000",
            "tickWidth": 2,
            "domainColor": "#000000",
            "domainWidth": 2,
            "grid": true,
            "gridColor": "#dddddd",
            "gridWidth": 2,
            "gridOpacity": {"condition": {"test": "datum.value % 5 === 0", "value": 1}, "value": 0},
            "title": "Paine (-100 - +100Pa)",
            "titleFontSize": 31,
            "titleFontWeight": "normal",
            "titleColor": "#222222",
            "titlePadding": 10
          }
        },
        "y2": {"field": "hi"}
      }
    },
    {
      "data": {"name": "line"},
      "mark": {"type": "line", "interpolate": "step-after", "strokeWidth": 2.5, "clip": true},
      "encoding": {
        "x": {"field": "t", "type": "temporal", "axis": null},
        "y": {"field": "v", "type": "quantitative", "axis": null},
        "color": {
          "datum": "615523\u00a0 Paine nro. 4",
          "scale": {"range": ["#2323e0"]},
          "legend": {
            "orient": "none",
            "legendX": 5,
            "legendY": -72,
            "title": null,
            "padding": 0,
            "symbolType": "square",
            "symbolSize": 160,
            "symbolFillColor": "#2323e0",
            "symbolStrokeColor": "#2323e0",
            "symbolStrokeWidth": 0,
            "labelFontSize": 26,
            "labelColor": "#222222",
            "labelOffset": 23,
            "labelLimit": 500
          }
        }
      }
    },
    {
      "data": {"name": "notes"},
      "mark": {"type": "text", "font": "Open Sans", "fontSize": 41, "color": "#000000", "baseline": "alphabetic", "align": "center"},
      "encoding": {
        "x": {
          "field": "t", "type": "temporal",
          "axis": {
            "orient": "bottom",
            "values": [
              {"year":2015,"month":11,"date":19,"hours":0},{"year":2015,"month":11,"date":20,"hours":0},{"year":2015,"month":11,"date":21,"hours":0},{"year":2015,"month":11,"date":22,"hours":0},{"year":2015,"month":11,"date":23,"hours":0}
            ],
            "labelExpr": "date(datum.value) + ' marras 2015'",
            "labelAngle": 0,
            "labelAlign": "center",
            "labelBaseline": "top",
            "labelFontSize": 36,
            "labelColor": "#222222",
            "labelPadding": 74,
            "labelLimit": 600,
            "labelOverlap": false,
            "labelFlush": false,
            "labelBound": false,
            "ticks": false,
            "tickSize": 0,
            "domain": false,
            "grid": false,
            "title": null
          }
        },
        "y": {"field": "v", "type": "quantitative", "axis": null},
        "text": {"field": "label"}
      }
    },
    {
      "data": {"name": "arrow"},
      "mark": {"type": "rule", "color": "#3da898", "strokeWidth": 2},
      "encoding": {
        "x": {"field": "t", "type": "temporal", "axis": null},
        "x2": {"field": "t2"},
        "y": {"field": "v", "type": "quantitative", "axis": null},
        "y2": {"field": "v2"}
      }
    },
    {
      "data": {"name": "head"},
      "mark": {"type": "point", "shape": "triangle-up", "filled": true, "color": "#3da898", "size": 190, "angle": 232.6, "opacity": 1},
      "encoding": {
        "x": {"field": "t", "type": "temporal", "axis": null},
        "y": {"field": "v", "type": "quantitative", "axis": null}
      }
    },
    {
      "data": {"name": "cursor"},
      "mark": {"type": "rule", "color": "#000000", "strokeWidth": 2},
      "encoding": {
        "x": {"field": "t", "type": "temporal", "axis": null},
        "y": {"field": "v", "type": "quantitative", "axis": null},
        "y2": {"field": "v2"}
      }
    },
    {
      "data": {"name": "marker"},
      "mark": {"type": "point", "shape": "square", "filled": true, "color": "#2323e0", "size": 150, "opacity": 1},
      "encoding": {
        "x": {"field": "t", "type": "temporal", "axis": null},
        "y": {"field": "v", "type": "quantitative", "axis": null}
      }
    }
  ]
}
